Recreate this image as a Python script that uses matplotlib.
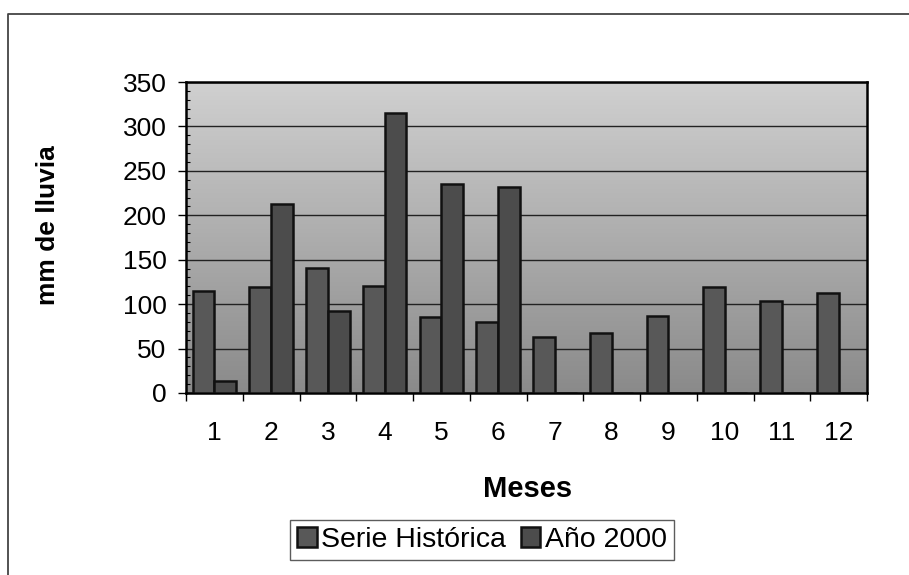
import numpy as np
import matplotlib.pyplot as plt
from matplotlib.lines import Line2D
from matplotlib.ticker import MultipleLocator
from matplotlib.colors import LinearSegmentedColormap

plt.rcParams['font.family'] = ['Liberation Sans', 'DejaVu Sans']

# Precipitación mensual (mm)
meses = ['1', '2', '3', '4', '5', '6', '7', '8', '9', '10', '11', '12']
serie_historica = [115, 119, 141, 120, 85, 80, 63, 68, 87, 119, 104, 113]
anio_2000 = [13, 213, 92, 315, 235, 232, 0, 0, 0, 0, 0, 0]

fig = plt.figure(figsize=(9.09, 5.75), dpi=100)
W, H = 909, 575

# marco exterior del gráfico (borde izquierdo y superior)
fig.lines.append(Line2D([8 / W, 8 / W, 1.0], [0.0, 1 - 14 / H, 1 - 14 / H],
                        transform=fig.transFigure, color='#444444', linewidth=1.3))

ax = fig.add_axes([186 / W, (H - 393) / H, (867 - 186) / W, (393 - 82) / H])

# fondo con degradado gris (claro arriba, oscuro abajo)
fondo = LinearSegmentedColormap.from_list('fondo', ['#d0d0d0', '#8a8a8a'])
grad = np.linspace(0, 1, 256).reshape(-1, 1)
ax.imshow(grad, cmap=fondo, aspect='auto',
          extent=[0.5, 12.5, 0, 350], origin='upper', zorder=0)

x = np.arange(1, len(meses) + 1)
w = 0.385
ax.bar(x - w / 2, serie_historica, w, color='#585858', edgecolor='#111111',
       linewidth=1.8, label='Serie Histórica', zorder=3)
ax.bar(x + w / 2, anio_2000, w, color='#4c4c4c', edgecolor='#111111',
       linewidth=1.8, label='Año 2000', zorder=3)

ax.set_xlim(0.5, 12.5)
ax.set_ylim(0, 350)
ax.set_yticks(range(0, 351, 50))
ax.yaxis.set_minor_locator(MultipleLocator(10))
ax.set_xticks(x)
ax.set_xticklabels(meses)
ax.set_xticks(np.arange(0.5, 12.6, 1), minor=True)
ax.grid(axis='y', color='#222222', linewidth=1, zorder=1)

ax.tick_params(axis='x', which='major', length=0, pad=20, labelsize=19)
ax.tick_params(axis='x', which='minor', length=6, direction='out', width=1)
ax.tick_params(axis='y', which='major', length=6, direction='out', width=1,
               pad=8, labelsize=19)
ax.tick_params(axis='y', which='minor', length=3, direction='in', width=0.8)
for s in ax.spines.values():
    s.set_linewidth(1.8)

ax.set_xlabel('Meses', fontsize=21, fontweight='bold')
ax.xaxis.set_label_coords(0.502, -0.265)
ax.set_ylabel('mm de lluvia', fontsize=19, fontweight='bold')
ax.yaxis.set_label_coords(-0.185, 0.54)

leg = fig.legend(loc='center', bbox_to_anchor=(482 / W, 1 - 540 / H), ncol=2,
                 fontsize=20.5, frameon=True, fancybox=False, handlelength=0.7,
                 handleheight=0.7, handletextpad=0.15, columnspacing=0.5,
                 borderpad=0.25)
leg.get_frame().set_edgecolor('#333333')
leg.get_frame().set_linewidth(1)

fig.savefig('out.png', dpi=100)
